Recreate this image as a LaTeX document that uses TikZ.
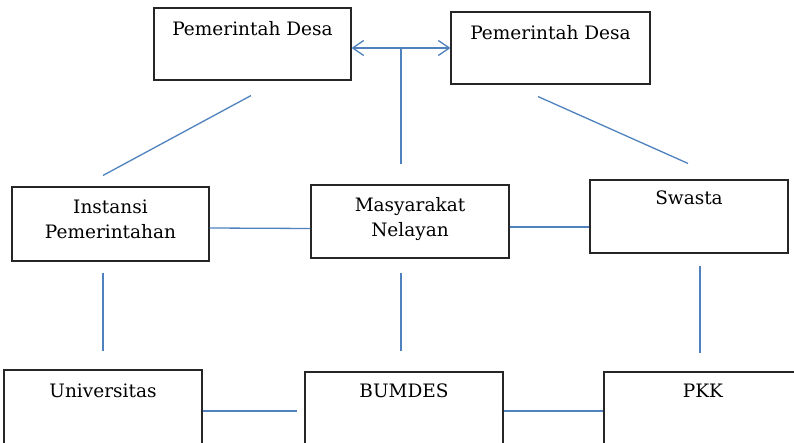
\documentclass[tikz,border=0pt]{standalone}
\usepackage{fontspec}
\setmainfont{DejaVu Serif}
\usepackage{xcolor}
\usetikzlibrary{arrows.meta,calc,positioning}
\definecolor{linkblue}{RGB}{79,129,189}

\begin{document}
\begin{tikzpicture}[x=1pt,y=-1pt,
  box/.style={draw=black!85, line width=1.1pt, minimum width=197pt, minimum height=72pt, inner sep=0pt},
  boxtext/.style={anchor=north, align=center, inner sep=2pt, yshift=-12pt, font=\fontsize{18.5}{25}\selectfont},
  link/.style={draw=linkblue, line width=1.3pt}]
\useasboundingbox (0,0) rectangle (794,443);
% Top row: village government
\node[box, label={[boxtext]north:Pemerintah Desa}] (pd1) at (252.5,44) {};
\node[box, minimum width=199pt, label={[boxtext]north:Pemerintah Desa}] (pd2) at (550.5,48) {};
% Middle row
\node[box, minimum height=74pt, label={[boxtext, yshift=1pt]north:Instansi\\Pemerintahan}] (inst) at (110.5,224) {};
\node[box, minimum width=198pt, minimum height=73pt, label={[boxtext, yshift=1pt]north:Masyarakat\\Nelayan}] (masy) at (410,221.5) {};
\node[box, minimum width=198pt, minimum height=73pt, label={[boxtext, yshift=3pt]north:Swasta}] (swasta) at (689,216.5) {};
% Bottom row (cut off by the page)
\node[box, minimum width=198pt, minimum height=100pt, label={[boxtext]north:Universitas}] (univ) at (103,420) {};
\node[box, minimum width=198pt, minimum height=100pt, label={[boxtext, yshift=2pt]north:BUMDES}] (bum) at (404,422) {};
\node[box, minimum width=198pt, minimum height=100pt, label={[boxtext, yshift=2pt]north:PKK}] (pkk) at (703,422) {};
% Free ends of the diagonals
\coordinate (d1a) at ([yshift=-15pt, xshift=-1.5pt]pd1.south);
\coordinate (d1b) at ([yshift=11pt, xshift=-7.5pt]inst.north);
\coordinate (d2a) at ([yshift=-12pt, xshift=-12.5pt]pd2.south);
\coordinate (d2b) at ([yshift=16pt, xshift=-1pt]swasta.north);
\coordinate (hub) at ($(pd1.east |- pd2.west)!0.5!(pd2.west)$);
% Arrows
\draw[link, {Straight Barb[length=11pt,width=15pt]}-{Straight Barb[length=11pt,width=15pt]}] (pd1.east |- pd2.west) -- (pd2.west);
\draw[link, shorten >=20pt] (hub) -- (hub |- masy.north);
\draw[link] (d1a) -- (d1b);
\draw[link] (d2a) -- (d2b);
\draw[link] ([yshift=-4pt]inst.east) -- ([yshift=-7pt]masy.west);
\draw[link] ([yshift=-5.5pt]masy.east) -- ([yshift=-10.5pt]swasta.west);
\draw[link, shorten <=11pt, shorten >=18pt] (inst.south -| univ.north) -- (univ.north);
\draw[link, shorten <=14pt, shorten >=20pt] (masy.south -| hub) -- (bum.north -| hub);
\draw[link, shorten <=12pt, shorten >=18pt] ([xshift=-3pt]swasta.south -| pkk.north) -- ([xshift=-3pt]pkk.north);
\draw[link, shorten >=7pt] ([yshift=9pt]univ.east) -- ([yshift=11pt]bum.west);
\draw[link] ([yshift=11pt]bum.east) -- ([yshift=11pt]pkk.west);
\end{tikzpicture}
\end{document}
